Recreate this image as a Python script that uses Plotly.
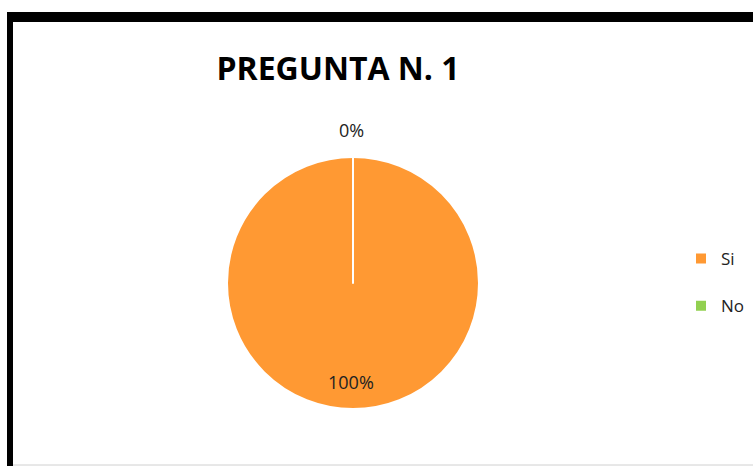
import plotly.graph_objects as go

# datos de la pregunta 1
labels = ["Si", "No"]
values = [100, 0]
colors = ["#FF9933", "#92D050"]

W, H = 753, 466
total = sum(values)
pct = [f"{v / total:.0%}" for v in values]

# pie centre / radius in pixels (reference is a slightly tall ellipse)
cx, cy, rad = 353, 283, 126

fig = go.Figure()
fig.add_trace(go.Pie(
    labels=[f"{lab}<br> " for lab in labels],  # blank line spaces legend rows
    values=values,
    marker=dict(colors=colors, line=dict(color="white", width=2)),
    sort=False,
    direction="clockwise",
    rotation=0,
    textinfo="none",
    hovertemplate="%{label}%{percent}<extra></extra>",
    showlegend=True,
    domain=dict(x=[(cx - rad) / W, (cx + rad) / W],
                y=[(H - cy - rad) / H, (H - cy + rad) / H]),
))

font = "Open Sans"

annotations = [
    # percent labels
    dict(text=pct[1], x=351 / W, y=1 - 130 / H, showarrow=False, yanchor="middle",
         xref="paper", yref="paper", font=dict(size=18, color="#222", family=font)),
    dict(text=pct[0], x=351 / W, y=1 - 382 / H, showarrow=False, yanchor="middle",
         xref="paper", yref="paper", font=dict(size=18, color="#222", family=font)),
]

shapes = [
    # black frame on top and left
    dict(type="rect", xref="paper", yref="paper", x0=7 / W, x1=1.0,
         y0=1 - 22 / H, y1=1 - 12 / H, fillcolor="black", line=dict(width=0), layer="above"),
    dict(type="rect", xref="paper", yref="paper", x0=7 / W, x1=13 / W,
         y0=0, y1=1 - 12 / H, fillcolor="black", line=dict(width=0), layer="above"),
    dict(type="line", xref="paper", yref="paper", x0=13 / W, x1=1.0,
         y0=1 / H, y1=1 / H, line=dict(color="#d0d0d0", width=1)),
]

fig.update_layout(
    width=W, height=H,
    margin=dict(l=0, r=0, t=0, b=0),
    paper_bgcolor="white",
    plot_bgcolor="white",
    title=dict(text="<b>PREGUNTA N. 1</b>", x=338 / W, xanchor="center",
               y=1 - 69 / H, yanchor="middle",
               font=dict(size=32, color="black", family=font)),
    legend=dict(x=681 / W, y=1 - 241 / H, xanchor="left", yanchor="top",
                valign="top",
                font=dict(size=17, color="#222", family=font),
                itemwidth=30, bgcolor="rgba(0,0,0,0)"),
    annotations=annotations,
    shapes=shapes,
)

# drop the default 8px body margin so the figure fills the window
fig.write_html("out.html", config={"displayModeBar": False},
               post_script="document.body.style.margin='0';")
